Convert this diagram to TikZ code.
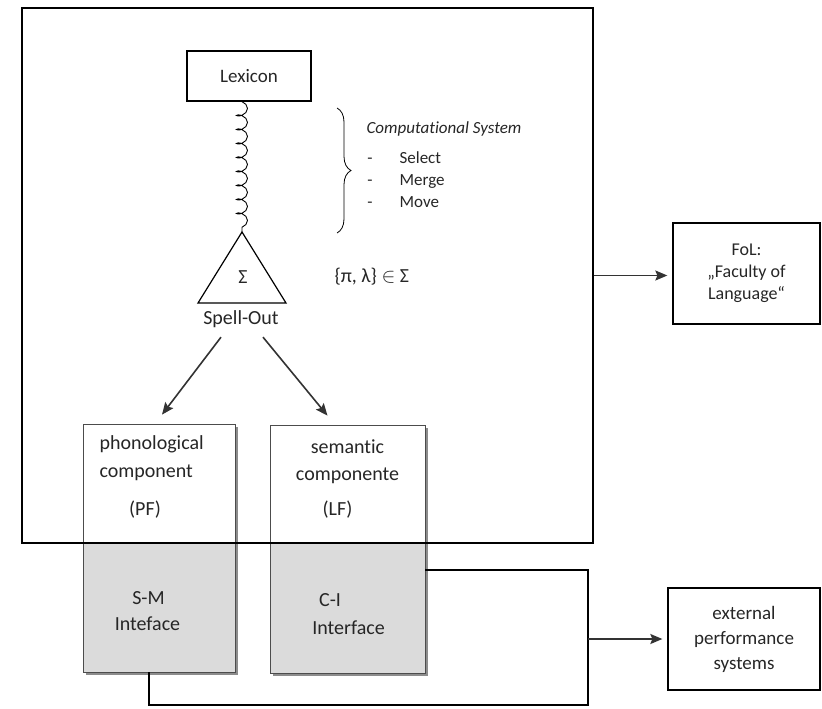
\documentclass[tikz,border=0pt]{standalone}
\usepackage{fontspec}
\setmainfont{Carlito}[Ligatures=NoCommon]
\usetikzlibrary{arrows.meta, decorations.pathmorphing, decorations.pathreplacing, shadows, positioning}

\tikzset{
    txt/.style={font=\fontsize{20}{24}\selectfont, text=black!85, inner sep=1pt},
    small/.style={font=\fontsize{17}{20}\selectfont, text=black!85, inner sep=1pt},
    box/.style={draw, line width=1.3pt, align=center, font=\fontsize{19}{25}\selectfont, text=black!85},
    comp/.style={draw=black!70, line width=0.7pt, minimum width=152, minimum height=248, fill=white,
        drop shadow={shadow xshift=2.5pt, shadow yshift=-2.5pt, fill=black!45, opacity=1},
        path picture={\fill[black!14] (path picture bounding box.south west) rectangle (path picture bounding box.east |- split);}},
    arr/.style={-{Stealth[length=12pt, width=10pt, inset=2pt]}, line width=1.6pt, draw=black!80}
}

\begin{document}
\begin{tikzpicture}[x=1pt, y=-1pt, line width=1.2pt]
\useasboundingbox (0,0) rectangle (822,709);
\coordinate (split) at (0,543);

\node[comp] (pf) at (159,548) {};
\node[comp, minimum width=155] (lf) at (347.5,549) {};
\node[draw, line width=1.3pt, minimum width=571, minimum height=535] (fl) at (307.5,275.5) {};

\node[box, minimum width=124, minimum height=50] (lex) at (249,76) {Lexicon};
\coordinate (apex) at (242,232);
\draw[line width=0.9pt, decorate, decoration={coil, aspect=0.6, segment length=14pt, amplitude=5.5pt}] (lex.south -| apex) -- (apex);
\draw (apex) -- ++(-44,71) -- ++(88,0) -- cycle;
\node[txt] (sigma) at (243,277) {Σ};
\node[txt] (spell) at (241,319) {Spell-Out};

\draw[decorate, decoration={brace, amplitude=14pt}, line width=0.8pt] (337,108) -- (337,233);
\node[small, anchor=west, font=\fontsize{17}{20}\selectfont\itshape] (cs) at (365,129) {Computational System};
\foreach \w [count=\i] in {Select, Merge, Move} {
    \node[small, anchor=base] (dash\i) at (370,141+22*\i) {-};
    \node[small, anchor=base west] (op\i) at (398,141+22*\i) {\w};
}
\node[txt, anchor=west] (pair) at (333,277) {\{π, λ\} $\in$ Σ};

\draw[arr] ([xshift=-20pt,yshift=-8pt]spell.south) -- ([xshift=3pt,yshift=9pt]pf.north);
\draw[arr] ([xshift=22pt,yshift=-8pt]spell.south) -- ([xshift=-20pt,yshift=9pt]lf.north);

\node[txt, anchor=west] (pf1) at (98,444) {phonological};
\node[txt, anchor=west] (pf2) at (98,473) {component};
\node[txt] (pf3) at (145,510) {(PF)};
\node[txt] (pf4) at (148.5,598) {S-M};
\node[txt] (pf5) at (147.5,624) {Inteface};
\node[txt] (lf1) at (347.5,447) {semantic};
\node[txt] (lf2) at (347.5,476) {componente};
\node[txt] (lf3) at (337.5,510) {(LF)};
\node[txt] (lf4) at (330,600) {C-I};
\node[txt] (lf5) at (348.5,628) {Interface};

\node[box, minimum width=147, minimum height=101, font=\fontsize{18}{22}\selectfont] (fol) at (746.5,273.5) {FoL:\\„Faculty of\\Language“};
\draw[arr, shorten >=5pt] (fl.east) -- (fl.east -| fol.west);

\node[box, minimum width=152, minimum height=102] (ext) at (744,639) {external\\performance\\systems};
\coordinate (ne) at (588,570);
\coordinate (se) at (588,705);
\draw (lf.east |- ne) -- (ne) -- (se) -| ([xshift=-10pt]pf.south);
\draw[arr, shorten >=5pt] (ne |- ext.west) -- (ext.west);
\end{tikzpicture}
\end{document}
